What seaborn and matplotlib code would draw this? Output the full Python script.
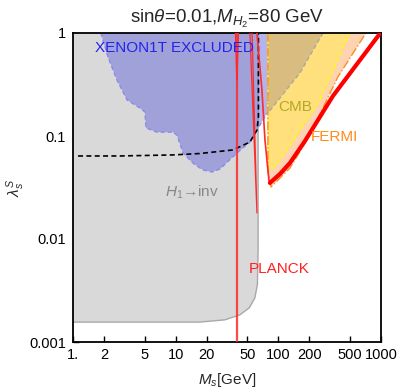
import numpy as np
import pandas as pd
import seaborn as sns
import matplotlib.pyplot as plt

# region boundaries (M_s in GeV, lambda)
inv_x = [1, 17, 30, 42, 52, 59, 62.5, 63.5, 63.5, 1]
inv_y = [0.00156, 0.00156, 0.00164, 0.00183, 0.00214, 0.00267, 0.0036, 0.0078, 1, 1]

xenon_x = [1.87, 2.19, 2.68, 3.36, 4.49, 5.02, 5.14, 6.58, 9.41, 10.3, 11.8, 14.7,
           18.4, 22.6, 27.0, 39.5, 52.9, 70.8, 79.2, 79.2]
xenon_y = [1, 0.585, 0.35, 0.224, 0.187, 0.171, 0.120, 0.109, 0.109, 0.102, 0.0684,
           0.0547, 0.0468, 0.0447, 0.0478, 0.0684, 0.0874, 0.143, 0.171, 1]

fermi_x = [79.2, 79.2, 85, 129.7, 203, 380, 713]
fermi_y = [1, 0.045, 0.032, 0.0489, 0.102, 0.374, 1]

cmb_x = [79.2, 79.2, 83, 92, 129.7, 254, 498]
cmb_y = [1, 0.06, 0.048, 0.05, 0.080, 0.224, 1]

tan_x = [79.2, 272, 162, 79.2]
tan_y = [1, 1, 0.409, 0.167]

future_x = [1.12, 2.87, 9.41, 17.2, 36.1, 52.9, 61.9, 64, 64]
future_y = [0.064, 0.064, 0.0655, 0.0676, 0.0732, 0.0874, 0.114, 0.153, 1]

planck_left_x = [61.9, 69.2, 74.1, 81, 82.8]
planck_left_y = [1, 0.28, 0.0914, 0.037, 0.035]
planck_right_x = [82.8, 103.7, 129.7, 181.6, 340, 1000]
planck_right_y = [0.035, 0.0428, 0.0547, 0.0894, 0.2445, 1.02]
planck_res_x = [52.9, 61.9, 55.5]
planck_res_y = [1, 0.0179, 1]

xticks = [1, 2, 5, 10, 20, 50, 100, 200, 500, 1000]
xticklabels = ["1.", "2", "5", "10", "20", "50", "100", "200", "500", "1000"]
yticks = [0.001, 0.01, 0.1, 1]
yticklabels = ["0.001", "0.01", "0.1", "1"]

sns.set_theme(style="white")
plt.rcParams["font.family"] = ["Liberation Sans", "DejaVu Sans"]
plt.rcParams["mathtext.fontset"] = "custom"
plt.rcParams["mathtext.rm"] = "Liberation Sans"
plt.rcParams["mathtext.it"] = "Liberation Sans:italic"

fig = plt.figure(figsize=(3.99, 3.88), dpi=100)
ax = fig.add_axes([73/399, 1-342/388, 308/399, 309/388])
ax.set_xscale("log")
ax.set_yscale("log")

ax.fill(inv_x, inv_y, color="#d9d9d9", lw=0, zorder=1)
ax.plot(inv_x[:9], inv_y[:9], color="#a8a8a8", lw=1, zorder=1.5)
ax.fill(xenon_x, xenon_y, color="#6b6bdb", alpha=0.5, lw=0, zorder=2)
ax.plot(xenon_x[:-1], xenon_y[:-1], color="#8a8ae8", lw=1, ls=(0, (3, 2)), zorder=2.2)
ax.fill(fermi_x, fermi_y, color="#fdd3b2", lw=0, zorder=2)
ax.plot(fermi_x, fermi_y, color="#ff8c1a", lw=1, ls="-.", zorder=2.4)
ax.fill(cmb_x, cmb_y, color="#ffe07c", lw=0, zorder=2.1)
ax.plot(cmb_x, cmb_y, color="#ffff00", lw=1, ls=(0, (3, 2)), zorder=2.3)
ax.fill(tan_x, tan_y, color="#d9bd80", lw=0, zorder=2.2)
ax.plot(tan_x[1:], tan_y[1:], color="#a8a8a8", lw=1, ls=(0, (3, 2)), zorder=2.3)

sns.lineplot(x=future_x, y=future_y, sort=False, estimator=None, color="black",
             lw=1.2, ls=(0, (3, 2)), ax=ax, zorder=3)

red = "#ff2a2a"
ax.axvline(39.5, color=red, lw=1.6, alpha=0.85, zorder=3)
ax.plot([38.2, 39.4], [1, 0.35], color=red, lw=0.9, zorder=3)
ax.plot([40.9, 39.6], [1, 0.35], color=red, lw=0.9, zorder=3)
sns.lineplot(x=planck_res_x, y=planck_res_y, sort=False, estimator=None, color=red,
             lw=0.9, ax=ax, zorder=3)
sns.lineplot(x=planck_left_x, y=planck_left_y, sort=False, estimator=None, color=red,
             lw=1.2, ax=ax, zorder=3)
sns.lineplot(x=planck_right_x, y=planck_right_y, sort=False, estimator=None, color="#ff0000",
             lw=3.0, ax=ax, zorder=3.5)

ax.set_xlim(1, 1000)
ax.set_ylim(0.001, 1)
ax.set_xticks(xticks)
ax.set_xticklabels(xticklabels)
ax.set_yticks(yticks)
ax.set_yticklabels(yticklabels)
ax.minorticks_off()
ax.tick_params(direction="in", length=4, width=1, labelsize=10.5, colors="black",
               bottom=True, left=True, top=False, right=False)
ax.tick_params(axis="y", pad=5)
ax.tick_params(axis="x", pad=4)
for s in ax.spines.values():
    s.set_color("black")
    s.set_linewidth(1.3)

ax.text(1.65, 0.72, "XENON1T EXCLUDED", color="#2323ee", fontsize=11, va="center", zorder=5)
ax.text(100, 0.19, "CMB", color="#b5a828", fontsize=11, va="center", zorder=5)
ax.text(205, 0.097, "FERMI", color="#ff8c1a", fontsize=11, va="center", zorder=5)
ax.text(52, 0.0051, "PLANCK", color="#ff2020", fontsize=11, va="center", zorder=5)
ax.text(7.8, 0.0285, "$H_1$→inv", color="#888888", fontsize=11, va="center", zorder=5)

ax.set_title(r"sin$\theta$=0.01,$M_{H_2}$=80 GeV", fontsize=13.5, pad=7)
ax.set_xlabel("$M_s$[GeV]", fontsize=11, labelpad=7)
ax.set_ylabel(r"$\lambda_s^S$", fontsize=11)
ax.yaxis.set_label_coords(-0.15, 0.5)

fig.savefig("out.png", dpi=100)
